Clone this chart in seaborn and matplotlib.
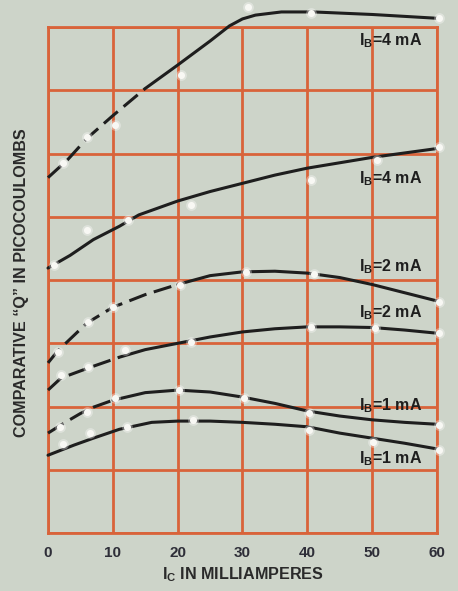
import matplotlib
matplotlib.use('Agg')
import matplotlib.pyplot as plt
import pandas as pd
import seaborn as sns

# Values; y is in grid squares (the chart has no y scale)
x_ticks = [0, 10, 20, 30, 40, 50, 60]

a_x = [0, 3, 6, 10, 15, 20, 25, 28, 30, 32, 36, 41, 50, 60]
a_y = [5.62, 5.9, 6.24, 6.6, 7.03, 7.4, 7.78, 8.02, 8.13, 8.19, 8.24, 8.24, 8.2, 8.14]
a_dots_x = [2.3, 6, 10.4, 20.5, 30.8, 40.5, 60.3]
a_dots_y = [5.85, 6.26, 6.45, 7.24, 8.32, 8.22, 8.14]

b_x = [0, 3.4, 7, 11, 14, 20, 25, 30, 35, 40, 50, 60]
b_y = [4.19, 4.39, 4.64, 4.85, 5.03, 5.25, 5.4, 5.53, 5.66, 5.77, 5.94, 6.08]
b_dots_x = [1, 6, 12.4, 22, 40.6, 50.7, 60.3]
b_dots_y = [4.24, 4.79, 4.95, 5.19, 5.58, 5.9, 6.1]

c_x = [0, 1.5, 6, 10, 15, 20, 25, 30, 35, 40, 45, 50, 55, 60]
c_y = [2.69, 2.88, 3.32, 3.57, 3.77, 3.93, 4.07, 4.13, 4.14, 4.11, 4.04, 3.93, 3.8, 3.67]
c_dots_x = [1.5, 6.2, 10, 20.3, 30.5, 41, 60.3]
c_dots_y = [2.86, 3.34, 3.57, 3.92, 4.12, 4.1, 3.66]

d_x = [0, 2, 6.5, 11, 15, 20, 25, 30, 35, 40, 45, 50, 55, 60]
d_y = [2.26, 2.45, 2.62, 2.78, 2.9, 3.0, 3.1, 3.18, 3.23, 3.26, 3.26, 3.25, 3.21, 3.16]
d_dots_x = [2, 6.2, 11.9, 22, 40.6, 50.4, 60.3]
d_dots_y = [2.5, 2.62, 2.89, 3.02, 3.26, 3.24, 3.16]

e_x = [0, 2.5, 5, 7, 10, 15, 20, 25, 30, 35, 40, 45, 50, 55, 60]
e_y = [1.58, 1.74, 1.89, 1.99, 2.1, 2.22, 2.26, 2.23, 2.15, 2.05, 1.93, 1.85, 1.79, 1.75, 1.72]
e_dots_x = [1.9, 6, 10.4, 20.2, 30.2, 40.3, 60.3]
e_dots_y = [1.68, 1.91, 2.13, 2.26, 2.13, 1.9, 1.71]

f_x = [0, 4, 7, 11, 16, 20, 25, 30, 35, 40, 45, 50, 55, 60]
f_y = [1.23, 1.39, 1.5, 1.64, 1.75, 1.77, 1.77, 1.75, 1.72, 1.68, 1.58, 1.5, 1.42, 1.33]
f_dots_x = [2.3, 6.5, 12.2, 22.3, 40.3, 50.2, 60.3]
f_dots_y = [1.4, 1.58, 1.68, 1.79, 1.63, 1.44, 1.31]

curves = [
    # x, y, dots x, dots y, dashed up to, label, label y
    (a_x, a_y, a_dots_x, a_dots_y, 15, '4', 7.78),
    (b_x, b_y, b_dots_x, b_dots_y, 0, '4', 5.61),
    (c_x, c_y, c_dots_x, c_dots_y, 20, '2', 4.21),
    (d_x, d_y, d_dots_x, d_dots_y, 11, '2', 3.48),
    (e_x, e_y, e_dots_x, e_dots_y, 10, '1', 2.01),
    (f_x, f_y, f_dots_x, f_dots_y, 0, '1', 1.18),
]

bg = '#cdd4c9'
grid_col = '#d9633a'
ink = '#1e1e1e'

sns.set_style('white')
plt.rcParams['font.family'] = ['Liberation Sans', 'DejaVu Sans']
plt.rcParams['mathtext.fontset'] = 'custom'
plt.rcParams['mathtext.rm'] = 'Liberation Sans:bold'

fig = plt.figure(figsize=(4.58, 5.91), dpi=100)
fig.patch.set_facecolor(bg)
ax = fig.add_axes([0.1048, 0.0981, 0.8493, 0.856])
ax.set_facecolor(bg)

for cx, cy, dx, dy, dash_end, ib, ly in curves:
    df = pd.DataFrame({'x': cx, 'y': cy})
    dashed = df[df['x'] <= dash_end]
    solid = df[df['x'] >= dash_end]
    if len(dashed) > 1:
        sns.lineplot(data=dashed, x='x', y='y', ax=ax, color=ink, lw=2.2,
                     linestyle=(0, (6, 2.5)), estimator=None, sort=False,
                     clip_on=False, zorder=3)
    sns.lineplot(data=solid, x='x', y='y', ax=ax, color=ink, lw=2.2,
                 estimator=None, sort=False, clip_on=False, zorder=3)
    # soft white dots where the points were plotted
    ax.scatter(dx, dy, s=60, color='white', alpha=0.35, linewidths=0,
               zorder=4, clip_on=False)
    ax.scatter(dx, dy, s=26, color='#f8f8f4', linewidths=0,
               zorder=5, clip_on=False)
    ax.text(52.9, ly, r'I$_\mathregular{B}$=' + ib + ' mA', ha='center',
            va='center', fontsize=11.5, fontweight='bold', color=ink, zorder=6)

ax.set_xlim(0, 60)
ax.set_ylim(0, 8)
ax.set_xticks(x_ticks)
ax.set_xticklabels([str(t) for t in x_ticks], fontsize=11, fontweight='bold',
                   color='#2e2e38')
ax.set_yticks(range(0, 9))
ax.set_yticklabels([])
ax.tick_params(length=0, pad=9)
ax.grid(True, color=grid_col, lw=2.0, zorder=1)
ax.set_axisbelow(True)
for s in ax.spines.values():
    s.set_color(grid_col)
    s.set_linewidth(2.0)
ax.set_xlabel('')
ax.set_ylabel('')

fig.text(0.048, 0.521, 'COMPARATIVE \u201cQ\u201d IN PICOCOULOMBS', rotation=90,
         ha='center', va='center', fontsize=11.6, fontweight='bold', color='#2a2a2a')
fig.text(0.53, 0.027, r'I$_\mathregular{C}$ IN MILLIAMPERES', ha='center',
         va='center', fontsize=11.6, fontweight='bold', color='#2a2a2a')

fig.savefig('out.png', dpi=100, facecolor=bg)
